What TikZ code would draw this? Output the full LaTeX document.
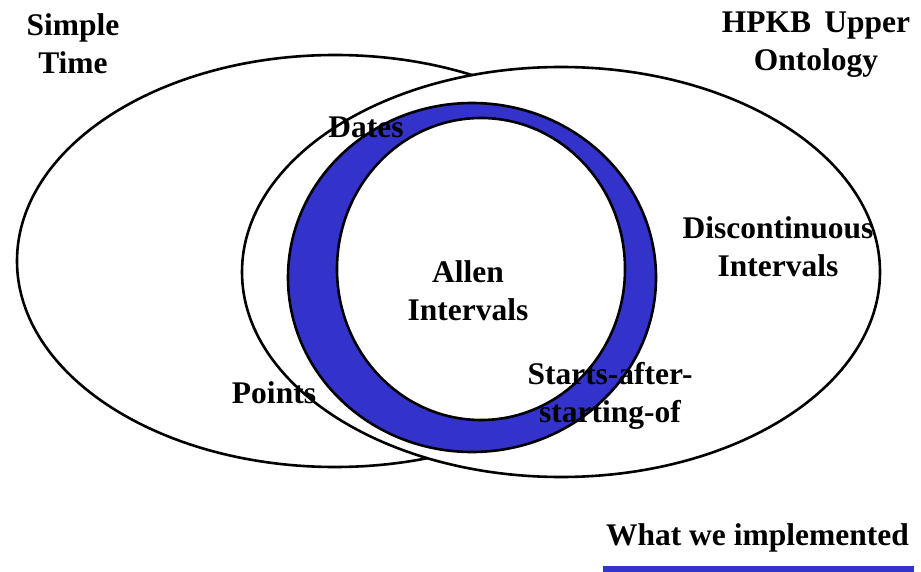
\documentclass[tikz,border=0pt]{standalone}
\usepackage{fontspec}
\setmainfont{Liberation Serif}
\usetikzlibrary{shapes.geometric}
\definecolor{ringblue}{RGB}{51,51,204}

\begin{document}
\begin{tikzpicture}[x=1pt, y=-1pt,
    myset/.style={ellipse, draw=black, line width=2.6pt, fill=white, inner sep=0pt},
    mylabel/.style={font=\fontsize{31.5}{38}\selectfont\bfseries, align=center, inner sep=0pt},
]
\useasboundingbox (0,0) rectangle (921,572);

\node[myset, minimum width=636pt, minimum height=412pt] (simple) at (335,261) {};
\node[myset, minimum width=638pt, minimum height=410pt] (hpkb) at (561,272) {};
\node[myset, fill=ringblue, minimum width=368pt, minimum height=349pt] (ring) at (472,277.5) {};
\node[myset, minimum width=288pt, minimum height=302pt] (allen) at (481,269) {};

\node[mylabel] (simpleT) at (73,44) {Simple\\Time};
\node[mylabel] (hpkbT) at (816,45) {HPKB\, Upper\\Ontology};
\node[mylabel] (datesT) at (366,127) {Dates};
\node[mylabel] (allenT) at (468,291) {Allen\\Intervals};
\node[mylabel] (discT) at (778,247) {Discontinuous\\Intervals};
\node[mylabel] (pointsT) at (274,393) {Points};
\node[mylabel] (startsT) at (610,396) {Starts-after-\\starting-of};

\node[mylabel, anchor=east] (implT) at (909,538) {What we implemented};
\fill[ringblue] (603,566) rectangle (914,572);
\end{tikzpicture}
\end{document}
